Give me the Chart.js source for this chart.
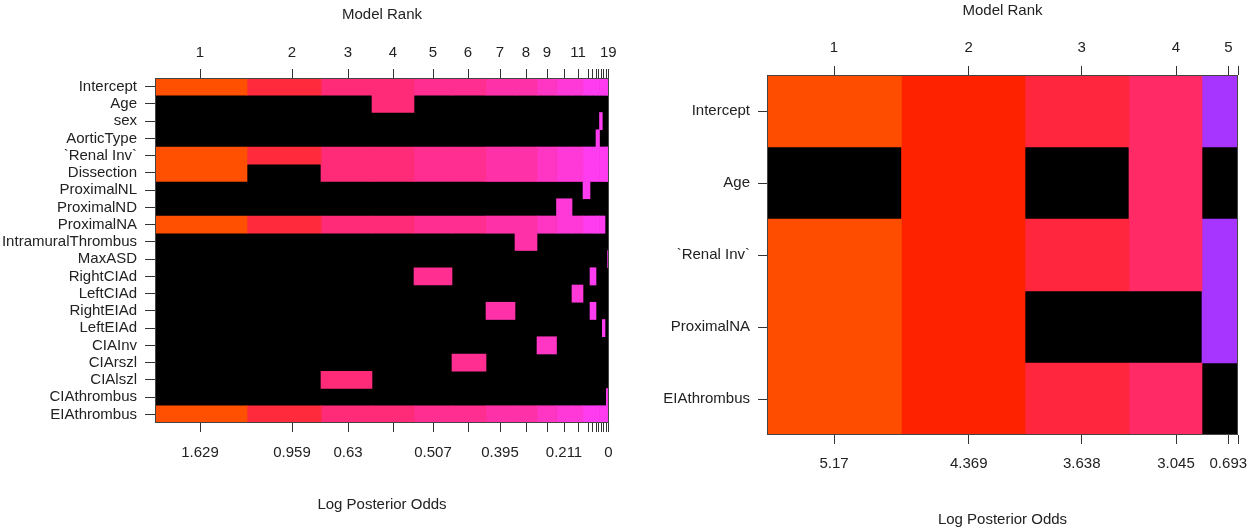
<!DOCTYPE html>
<html>
<head>
<meta charset="utf-8">
<script src="https://cdn.jsdelivr.net/npm/chart.js@4.4.1/dist/chart.umd.min.js"></script>
<style>
  html, body { margin: 0; padding: 0; background: #fff; }
  body { width: 1256px; height: 529px; position: relative; overflow: hidden; }
  canvas { position: absolute; top: 0; }
  #image-gauche { left: 0; }
  #image-droite { left: 632px; }
</style>
</head>
<body>
<canvas id="image-gauche" width="632" height="529"></canvas>
<canvas id="image-droite" width="624" height="529"></canvas>
<script>
// ---- panneau gauche : 19 modeles ----
const variablesGauche = ["Intercept", "Age", "sex", "AorticType", "`Renal Inv`", "Dissection",
  "ProximalNL", "ProximalND", "ProximalNA", "IntramuralThrombus", "MaxASD", "RightCIAd",
  "LeftCIAd", "RightEIAd", "LeftEIAd", "CIAInv", "CIArszl", "CIAlszl", "CIAthrombus", "EIAthrombus"];

// une chaine par variable, un caractere par modele (1 = incluse)
const inclusionGauche = [
  "1111111111111111111", // Intercept
  "0001000000000000000", // Age
  "0000000000000010000", // sex
  "0000000000000100000", // AorticType
  "1111111111111111111", // Renal Inv
  "1011111111111111111", // Dissection
  "0000000000010000000", // ProximalNL
  "0000000001000000000", // ProximalND
  "1111111111111111000", // ProximalNA
  "0000000100000000000", // IntramuralThrombus
  "0000000000000000001", // MaxASD
  "0000100000001000000", // RightCIAd
  "0000000000100000000", // LeftCIAd
  "0000001000001000000", // RightEIAd
  "0000000000000001000", // LeftEIAd
  "0000000010000000000", // CIAInv
  "0000010000000000000", // CIArszl
  "0010000000000000000", // CIAlszl
  "0000000000000000010", // CIAthrombus
  "1111111111111111111"  // EIAthrombus
];

// largeur relative de chaque colonne (probabilite du modele)
const largeursGauche = [92, 74, 51, 42, 38, 34, 29, 22, 19.5, 15.5, 11, 7, 6, 3.5, 2.8, 2.7, 1.3, 1.3, 1.4];
const couleursGauche = ["#ff4f00", "#ff2a3c", "#ff2b78", "#ff2b78", "#ff2e90", "#ff2e90", "#ff31a8",
  "#ff31a8", "#ff35c3", "#ff38d8", "#ff38d8", "#ff3cf0", "#ff3cf0", "#ff3cf0", "#ff3cf0", "#ff3cf0",
  "#ff3cf0", "#ff3cf0", "#ff3cf0"];
const positionsRangGauche = [45, 137, 193, 238, 278, 313, 345, 371, 392, 409, 423, 433.3, 437.7,
  441, 443.7, 446.3, 448.7, 451, 453.3];
const rangsGauche = ["1", "2", "3", "4", "5", "6", "7", "8", "9", "", "11", "", "", "", "", "", "", "", "19"];
const oddsGauche = ["1.629", "0.959", "0.63", "", "0.507", "", "0.395", "", "", "0.211", "", "", "",
  "", "", "", "", "", "0"];

// ---- panneau droit : 5 modeles ----
const variablesDroite = ["Intercept", "Age", "`Renal Inv`", "ProximalNA", "EIAthrombus"];
const inclusionDroite = ["11111", "01010", "11111", "11001", "11110"];
const largeursDroite = [134.5, 123.5, 104, 73, 36];
const couleursDroite = ["#ff4d00", "#ff2200", "#ff263e", "#ff2a66", "#a834ff"];
const positionsRangDroite = [67, 201.7, 314.7, 409, 461.3, 471];
const rangsDroite = ["1", "2", "3", "4", "5", ""];
const oddsDroite = ["5.17", "4.369", "3.638", "3.045", "0.693", ""];

const police = { family: '"Liberation Sans", Arial, Helvetica, sans-serif', size: 15 };
const encre = "#222";

const cadreImage = {
  id: "cadreImage",
  beforeDatasetsDraw(chart) {
    const { ctx, chartArea: a } = chart;
    ctx.save();
    ctx.fillStyle = "#000";
    ctx.fillRect(a.left, a.top, a.right - a.left, a.bottom - a.top);
    ctx.restore();
  },
  afterDatasetsDraw(chart) {
    const { ctx, chartArea: a } = chart;
    ctx.save();
    ctx.strokeStyle = "#444";
    ctx.lineWidth = 1;
    ctx.strokeRect(a.left + 0.5, a.top + 0.5, a.right - a.left - 1, a.bottom - a.top - 1);
    ctx.restore();
  }
};

function dessinerImage(id, variables, inclusion, largeurs, couleurs, positions, rangs, odds, geo) {
  const debuts = [];
  const fins = [];
  let cumul = 0;
  largeurs.forEach(l => { debuts.push(cumul); cumul += l; fins.push(cumul); });
  const total = cumul;

  const datasets = largeurs.map((l, j) => ({
    data: variables.map((v, i) => inclusion[i][j] === "1" ? [debuts[j], fins[j]] : null),
    backgroundColor: couleurs[j],
    borderWidth: 0,
    grouped: false,
    barPercentage: 1,
    categoryPercentage: 1
  }));

  const axeX = (position, etiquettes, padTicks, titre, padTitre, hauteur) => ({
    type: "linear",
    position: position,
    min: 0,
    max: total,
    grid: { drawOnChartArea: false, tickLength: 9, color: "#333" },
    border: { display: false },
    afterBuildTicks: s => { s.ticks = positions.map(v => ({ value: v })); },
    ticks: {
      autoSkip: false, maxRotation: 0, padding: padTicks, font: police, color: encre,
      callback: (v, i) => etiquettes[i]
    },
    title: { display: true, text: titre, font: police, color: encre, padding: padTitre },
    afterFit: s => { s.height = hauteur; }
  });

  new Chart(document.getElementById(id), {
    type: "bar",
    data: { labels: variables, datasets: datasets },
    options: {
      indexAxis: "y",
      responsive: false,
      animation: false,
      layout: { padding: { left: 0, right: geo.droite, top: 0, bottom: 0 } },
      plugins: { legend: { display: false }, tooltip: { enabled: false } },
      scales: {
        y: {
          type: "category",
          grid: { offset: false, drawOnChartArea: false, tickLength: geo.tickY, color: "#333" },
          border: { display: false },
          ticks: { autoSkip: false, padding: geo.padY, font: police, color: encre },
          afterFit: s => { s.width = geo.largeurY; }
        },
        x: axeX("bottom", odds, geo.padBas, "Log Posterior Odds", { top: 0, bottom: geo.titreBas }, geo.hautBas),
        xHaut: axeX("top", rangs, geo.padHaut, "Model Rank", { top: geo.titreHaut, bottom: 0 }, geo.hautHaut)
      }
    },
    plugins: [cadreImage]
  });
}

dessinerImage("image-gauche", variablesGauche, inclusionGauche, largeursGauche, couleursGauche,
  positionsRangGauche, rangsGauche, oddsGauche,
  { droite: 23, largeurY: 155, tickY: 10, padY: 8, hautHaut: 78, hautBas: 106,
    padHaut: 7, padBas: 12, titreHaut: 6, titreBas: 15 });

dessinerImage("image-droite", variablesDroite, inclusionDroite, largeursDroite, couleursDroite,
  positionsRangDroite, rangsDroite, oddsDroite,
  { droite: 18, largeurY: 135, tickY: 9, padY: 8, hautHaut: 75, hautBas: 94,
    padHaut: 9, padBas: 11, titreHaut: 2, titreBas: 0 });
</script>
</body>
</html>
